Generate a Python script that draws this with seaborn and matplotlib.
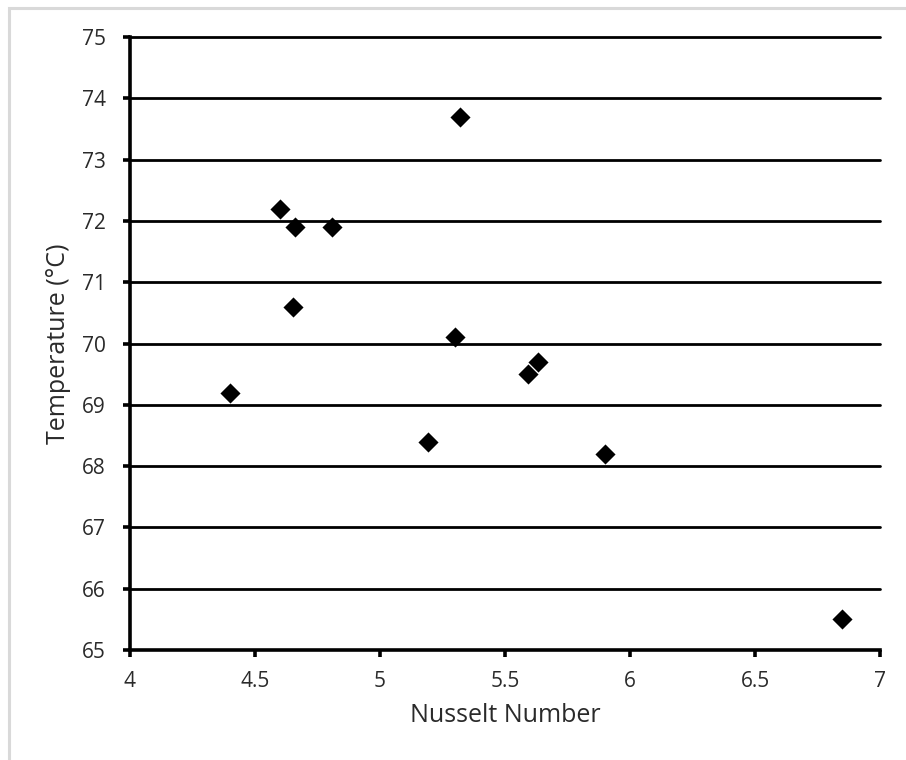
import matplotlib
matplotlib.use("Agg")
import matplotlib.pyplot as plt
from matplotlib.patches import Rectangle
import seaborn as sns
import pandas as pd

# Measured points
nusselt = [4.40, 4.60, 4.66, 4.81, 4.65, 5.32, 5.30, 5.19, 5.59, 5.63, 5.90, 6.85]
temperature = [69.2, 72.2, 71.9, 71.9, 70.6, 73.7, 70.1, 68.4, 69.5, 69.7, 68.2, 65.5]

x_ticks = [4, 4.5, 5, 5.5, 6, 6.5, 7]
x_tick_labels = ["4", "4.5", "5", "5.5", "6", "6.5", "7"]
y_ticks = list(range(65, 76))

df = pd.DataFrame({"Nusselt Number": nusselt, "Temperature": temperature})

sns.set_theme(style="white")
plt.rcParams["font.family"] = ["Open Sans", "DejaVu Sans"]

fig = plt.figure(figsize=(9.06, 7.6), dpi=100)
fig.patch.set_facecolor("white")

# light frame around the chart area (extends past the right/bottom edges)
fig.patches.append(Rectangle((9 / 906, -0.05), 1.2, 1 - 8 / 760 + 0.05,
                             transform=fig.transFigure, fill=False,
                             edgecolor="#d9d9d9", linewidth=2.2, zorder=0))

ax = fig.add_axes([130 / 906, 1 - 650 / 760, 750 / 906, (650 - 37) / 760])
ax.set_facecolor("white")

sns.scatterplot(data=df, x="Nusselt Number", y="Temperature", ax=ax,
                marker="D", s=105, color="black", edgecolor="black",
                linewidth=0, zorder=3)

ax.set_xlim(4, 7)
ax.set_ylim(65, 75)
ax.set_xticks(x_ticks)
ax.set_xticklabels(x_tick_labels)
ax.set_yticks(y_ticks)

for y in y_ticks[1:]:
    ax.axhline(y, color="black", linewidth=2.0, zorder=1, clip_on=False)

for side in ["top", "right"]:
    ax.spines[side].set_visible(False)
for side in ["left", "bottom"]:
    ax.spines[side].set_color("black")
    ax.spines[side].set_linewidth(2.6)

text_color = "#2a2a2a"
ax.tick_params(axis="both", direction="out", length=5, width=2.6,
               color="black", labelsize=15, labelcolor=text_color,
               left=True, bottom=True)
ax.tick_params(axis="y", pad=12.5)
ax.tick_params(axis="x", pad=10)

ax.set_xlabel("Nusselt Number", fontsize=18, color=text_color, va="center")
ax.set_ylabel("Temperature (°C)", fontsize=18, color=text_color, va="center")
ax.xaxis.set_label_coords(0.5, (650 - 716) / 613)
ax.yaxis.set_label_coords((59 - 130) / 750, 0.5)

fig.savefig("out.png", dpi=100, facecolor="white")
